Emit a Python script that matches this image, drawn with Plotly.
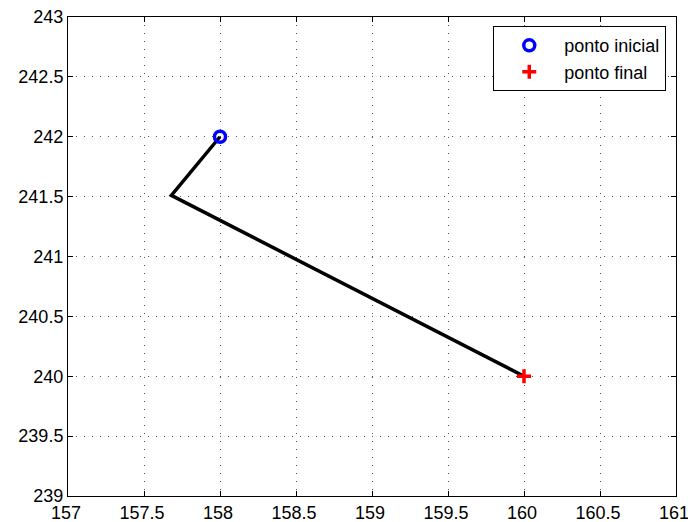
import plotly.graph_objects as go

path_x = [158.0, 157.68, 160.0]
path_y = [242.0, 241.51, 240.0]
start_x, start_y = [158.0], [242.0]
end_x, end_y = [160.0], [240.0]
x_ticks = [157, 157.5, 158, 158.5, 159, 159.5, 160, 160.5, 161]
y_ticks = [239, 239.5, 240, 240.5, 241, 241.5, 242, 242.5, 243]

fig = go.Figure()
fig.add_trace(go.Scatter(x=path_x, y=path_y, mode="lines",
                         line=dict(color="black", width=3.5), showlegend=False))
fig.add_trace(go.Scatter(x=start_x, y=start_y, mode="markers", name="ponto inicial",
                         marker=dict(symbol="circle-open", size=11, color="blue",
                                     line=dict(width=3.5, color="blue"))))
fig.add_trace(go.Scatter(x=end_x, y=end_y, mode="markers", name="ponto final",
                         marker=dict(symbol="cross-thin-open", size=10, color="red",
                                     line=dict(width=3.5, color="red"))))

axis_common = dict(showgrid=True, gridcolor="#555555", griddash="1px,7px", gridwidth=1,
                   showline=True, linecolor="black", linewidth=1, mirror="ticks",
                   ticks="inside", ticklen=5, tickcolor="black", zeroline=False,
                   automargin=False, ticklabeloverflow="allow",
                   tickfont=dict(family="Liberation Sans, Arial", size=18, color="black"))

fig.update_xaxes(range=[157, 161], tickvals=x_ticks, ticklabelshift=-2,
                 ticktext=[f"{v:g}" for v in x_ticks], **axis_common)
fig.update_yaxes(range=[239, 243], tickvals=y_ticks,
                 ticktext=[f"{v:g}" for v in y_ticks], **axis_common)

fig.update_layout(
    width=688, height=522,
    margin=dict(l=68, r=12, t=17, b=26),
    plot_bgcolor="white", paper_bgcolor="white",
    legend=dict(x=0.984, y=0.981, xanchor="right", yanchor="top",
                bgcolor="white", bordercolor="black", borderwidth=1,
                font=dict(family="Liberation Sans, Arial", size=18, color="black"),
                itemwidth=60, tracegroupgap=0),
)

fig.write_html("out.html", config={"displayModeBar": False},
               post_script="document.body.style.margin='0';document.body.style.overflow='hidden';")
